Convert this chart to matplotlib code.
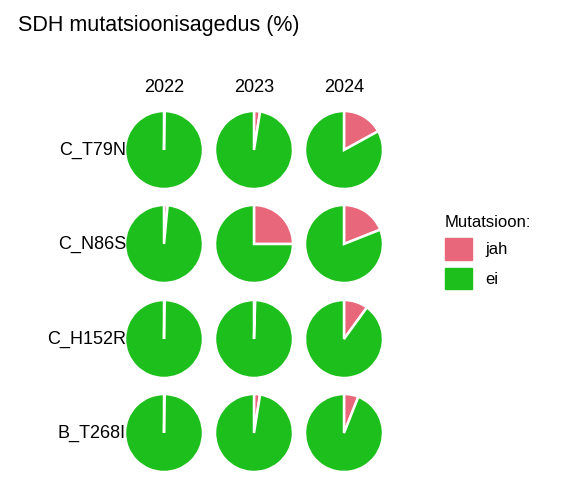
import matplotlib
matplotlib.use("Agg")
import matplotlib.pyplot as plt
from matplotlib.patches import Patch

plt.rcParams['font.family'] = ['Liberation Sans', 'DejaVu Sans']

years = ["2022", "2023", "2024"]
mutations = ["C_T79N", "C_N86S", "C_H152R", "B_T268I"]
jah = [
    [0.2, 2.5, 17.0],
    [1.5, 25.0, 19.0],
    [0.2, 0.5, 10.0],
    [0.2, 2.5, 6.0],
]
colors = {"jah": "#E8677A", "ei": "#1DBF1D"}

W, H = 587, 488
fig = plt.figure(figsize=(W/100, H/100), dpi=100)
xc = [164, 254, 344]
yc = [150, 244, 339, 433]
r = 39
for i, m in enumerate(mutations):
    for j, y in enumerate(years):
        ax = fig.add_axes([(xc[j]-r)/W, 1-(yc[i]+r)/H, 2*r/W, 2*r/H])
        v = jah[i][j]
        ax.pie([v, 100-v], colors=[colors["jah"], colors["ei"]], startangle=90,
               counterclock=False, radius=1,
               wedgeprops=dict(edgecolor="white", linewidth=1.8))
        ax.set_xlim(-1, 1)
        ax.set_ylim(-1, 1)
        ax.set_aspect("equal")
        ax.axis("off")
    fig.text(126/W, 1-yc[i]/H, m, ha="right", va="center", fontsize=13)
for j, y in enumerate(years):
    fig.text(xc[j]/W, 1-87/H, y, ha="center", va="center", fontsize=13)
fig.text(18/W, 1-25/H, "SDH mutatsioonisagedus (%)", ha="left", va="center", fontsize=15.5)
fig.legend(handles=[Patch(color=colors["jah"], label="jah"), Patch(color=colors["ei"], label="ei")],
           title="Mutatsioon:", loc="center left", bbox_to_anchor=(430/W, 1-252/H), frameon=False,
           fontsize=12, title_fontsize=12, handlelength=1.6, handleheight=1.6,
           labelspacing=0.5, alignment="left")
fig.savefig("out.png", dpi=100)
